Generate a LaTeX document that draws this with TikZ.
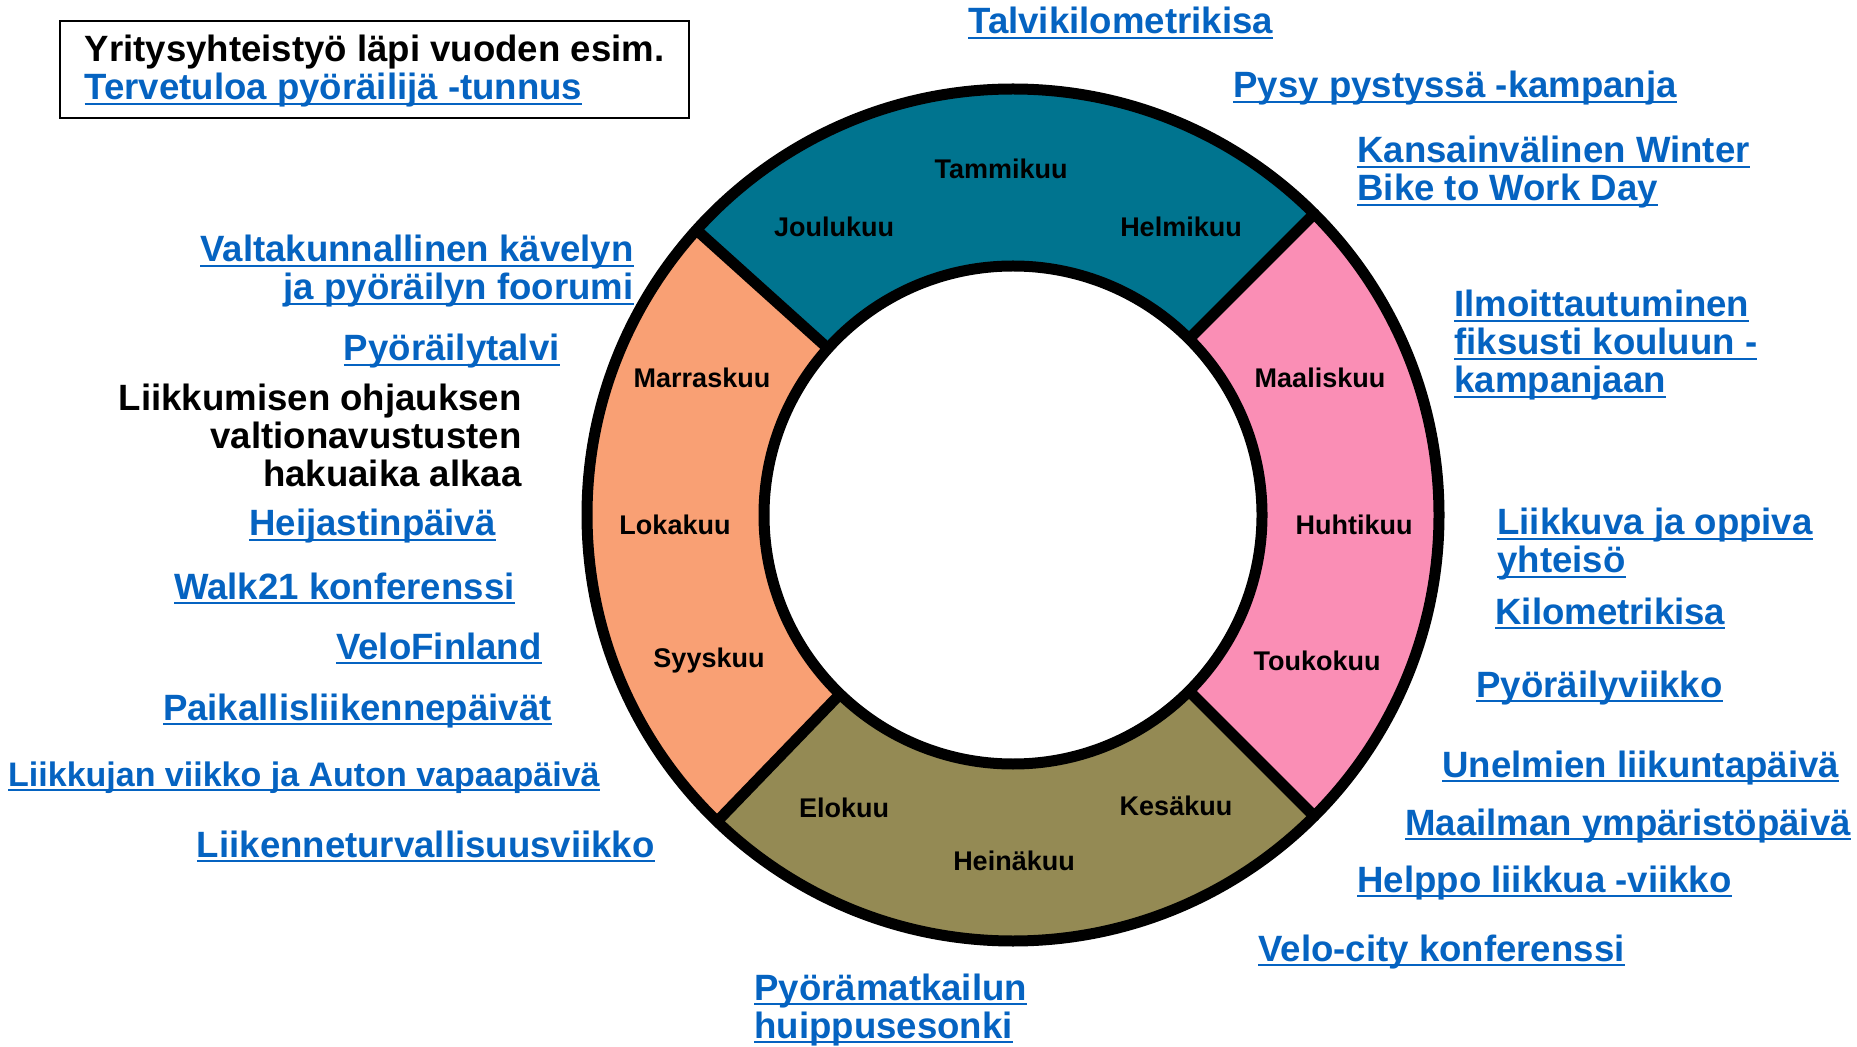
\documentclass[tikz,border=0pt]{standalone}
\usepackage{fontspec}
\setmainfont{Liberation Sans}
\usepackage{xcolor}
\usepackage{tikz}

\definecolor{linkblue}{RGB}{5,99,193}
\definecolor{winterteal}{RGB}{0,116,143}
\definecolor{springpink}{RGB}{250,142,181}
\definecolor{summerolive}{RGB}{148,138,84}
\definecolor{autumnsalmon}{RGB}{249,160,116}

% underlined hyperlink look
\newcommand{\lnk}[1]{\textcolor{linkblue}{\setbox0\hbox{#1}\rlap{\rule[-2.6pt]{\wd0}{1.1pt}}\box0}}

\begin{document}
\begin{tikzpicture}[%
  x=0.5pt, y=0.5pt,
  every node/.style={inner sep=0pt, font=\bfseries\fontsize{18.3}{19}\selectfont},
  lbl/.style={anchor=base west, align=left},
  lblr/.style={anchor=base east, align=right},
  month/.style={font=\bfseries\fontsize{13.5}{15}\selectfont},
  ring/.style={line width=5.5pt},
  infobox/.style={draw, line width=1pt, anchor=north west, align=left, minimum width=314.5pt, minimum height=48.5pt, inner xsep=9.5pt}
]
\fill[white] (0,0) rectangle (1857,-1047);
\useasboundingbox (0,0) rectangle (1857,-1047);

% Year wheel
\begin{scope}[shift={(1013,-515)}]
  \foreach \a/\b/\c in {45/138/winterteal, 138/226/autumnsalmon, 226/315/summerolive, -45/45/springpink}
    \fill[\c] (\a:426) arc[start angle=\a, end angle=\b, radius=426] -- (\b:249) arc[start angle=\b, end angle=\a, radius=249] -- cycle;
  \draw[ring] (0,0) circle[radius=426];
  \draw[ring] (0,0) circle[radius=249];
  \foreach \a in {45,138,226,315}
    \draw[ring] (\a:249) -- (\a:426);
\end{scope}

% Months
\node[month] (tammi) at (1001,-169) {Tammikuu};
\node[month] (helmi) at (1181,-227) {Helmikuu};
\node[month] (maalis) at (1320,-378) {Maaliskuu};
\node[month] (huhti) at (1354,-525) {Huhtikuu};
\node[month] (touko) at (1317,-661) {Toukokuu};
\node[month] (kesa) at (1176,-806) {Kesäkuu};
\node[month] (heina) at (1014,-861) {Heinäkuu};
\node[month] (elo) at (844,-808) {Elokuu};
\node[month] (syys) at (709,-661) {Syyskuu};
\node[month] (loka) at (675,-525) {Lokakuu};
\node[month] (marras) at (702,-378) {Marraskuu};
\node[month] (joulu) at (834,-227) {Joulukuu};

% Info box
\node[infobox] (yritys) at (59,-20) {\rule{0pt}{15pt}Yritysyhteistyö läpi vuoden esim.\\ \lnk{Tervetuloa pyöräilijä -tunnus}};

\begin{scope}[yshift=-1pt]
% Events, left side (base = last line)
\node[lblr] (valta) at (634,-298) {\lnk{Valtakunnallinen kävelyn}\\ \lnk{ja pyöräilyn foorumi}};
\node[lblr] (pyortalvi) at (560,-359) {\lnk{Pyöräilytalvi}};
\node[lblr] (avustus) at (522,-485) {Liikkumisen ohjauksen\\ valtionavustusten\\ hakuaika alkaa};
\node[lblr] (heijastin) at (496,-534) {\lnk{Heijastinpäivä}};
\node[lblr] (walk) at (515,-597) {\lnk{Walk21 konferenssi}};
\node[lblr] (velofin) at (542,-657) {\lnk{VeloFinland}};
\node[lblr] (paikallis) at (552,-718) {\lnk{Paikallisliikennepäivät}};
\node[lblr, font=\bfseries\fontsize{17}{19}\selectfont] (liikkujan) at (600,-784) {\lnk{Liikkujan viikko ja Auton vapaapäivä}};
\node[lblr] (turva) at (655,-855) {\lnk{Liikenneturvallisuusviikko}};
\node[lbl] (matkailu) at (754,-1036) {\lnk{Pyörämatkailun}\\ \lnk{huippusesonki}};

% Events, right side
\node[lbl] (talvi) at (968,-32) {\lnk{Talvikilometrikisa}};
\node[lbl] (pysy) at (1233,-96) {\lnk{Pysy pystyssä -kampanja}};
\node[lbl] (winter) at (1357,-199) {\lnk{Kansainvälinen Winter}\\ \lnk{Bike to Work Day}};
\node[lbl] (fiksusti) at (1454,-391) {\lnk{Ilmoittautuminen}\\ \lnk{fiksusti kouluun -}\\ \lnk{kampanjaan}};
\node[lbl] (oppiva) at (1497,-571) {\lnk{Liikkuva ja oppiva}\\ \lnk{yhteisö}};
\node[lbl] (kilometri) at (1495,-622) {\lnk{Kilometrikisa}};
\node[lbl] (pyorviikko) at (1476,-695) {\lnk{Pyöräilyviikko}};
\node[lbl] (unelmien) at (1442,-775) {\lnk{Unelmien liikuntapäivä}};
\node[lbl] (ymparisto) at (1405,-833) {\lnk{Maailman ympäristöpäivä}};
\node[lbl] (helppo) at (1357,-890) {\lnk{Helppo liikkua -viikko}};
\node[lbl] (velocity) at (1258,-959) {\lnk{Velo-city konferenssi}};
\end{scope}
\end{tikzpicture}
\end{document}
